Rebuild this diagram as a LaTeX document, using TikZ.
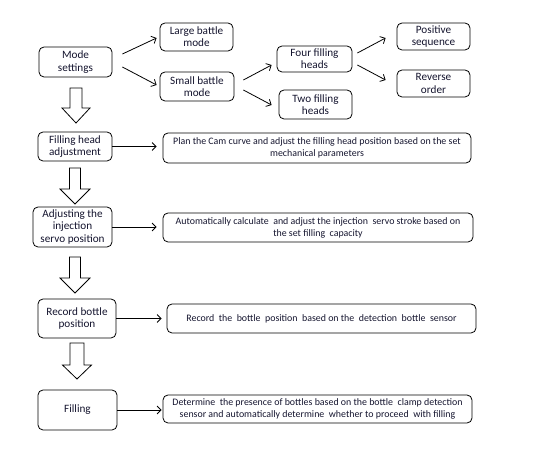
\documentclass[tikz,border=0pt]{standalone}
\usepackage{fontspec}
\setmainfont{Carlito}
\usetikzlibrary{arrows.meta}
\definecolor{txt}{HTML}{14142E}
\newcommand\hollowarrow[6]{%
  % #1 center x, #2 top y, #3 head start y, #4 tip y, #5 shaft half width, #6 head half width
  \draw[line width=0.8pt,fill=white] ({#1-#5},#2) -- ({#1+#5},#2) -- ({#1+#5},#3) -- ({#1+#6},#3)
    -- (#1,#4) -- ({#1-#6},#3) -- ({#1-#5},#3) -- cycle;}
\begin{document}
\begin{tikzpicture}[x=1pt,y=-1pt,
  box/.style={draw,line width=0.8pt,rounded corners=5pt,align=center,inner sep=1pt,
    text=txt,font=\fontsize{11.2}{12.3}\selectfont},
  wbox/.style={box,font=\fontsize{9.9}{12}\selectfont},
  conn/.style={line width=0.8pt,-{Straight Barb[length=4pt,width=8pt,line width=0.8pt]}}]
\useasboundingbox (0,0) rectangle (542,465);
% top row
\node[box,minimum width=73pt,minimum height=30pt] (mode) at (75.5,62) {Mode\\settings};
\node[box,minimum width=73pt,minimum height=28pt] (large) at (196.5,37) {Large battle\\mode};
\node[box,minimum width=74pt,minimum height=29pt] (small) at (197,86.5) {Small battle\\mode};
\node[box,minimum width=75pt,minimum height=26pt] (four) at (314.5,59) {Four filling\\heads};
\node[box,minimum width=73pt,minimum height=29pt] (two) at (315.5,104.5) {Two filling\\heads};
\node[box,minimum width=73pt,minimum height=27pt] (pos) at (433.5,36.5) {Positive\\sequence};
\node[box,minimum width=73pt,minimum height=27pt] (rev) at (433.5,83.5) {Reverse\\order};
\draw[conn] ([shift={(10pt,8pt)}]mode.east) -- ([shift={(-3pt,-1pt)}]large.west);
\draw[conn] ([shift={(10pt,-5pt)}]mode.east) -- ([shift={(-3pt,1.5pt)}]small.west);
\draw[conn] ([shift={(9pt,6.5pt)}]small.east) -- ([shift={(-5pt,-6pt)}]four.west);
\draw[conn] ([shift={(9pt,-3.5pt)}]small.east) -- ([shift={(-7pt,-0.5pt)}]two.west);
\draw[conn] ([shift={(5pt,6pt)}]four.east) -- ([shift={(-11pt,-1.5pt)}]pos.west);
\draw[conn] ([shift={(5pt,-6pt)}]four.east) -- ([shift={(-11pt,3.5pt)}]rev.west);
% steps
\node[box,minimum width=74pt,minimum height=29pt] (fha) at (75,146.5) {Filling head\\adjustment};
\node[wbox,minimum width=308pt,minimum height=30pt] (plan) at (317,148) {Plan the Cam curve and adjust the filling head position based on the set\\mechanical parameters};
\draw[conn] (fha.east) -- ([xshift=-6pt]plan.west |- fha.east);

\node[box,minimum width=79pt,minimum height=40pt] (adj) at (72.5,227) {Adjusting the\\injection\\servo position};
\node[wbox,minimum width=310pt,minimum height=29pt] (auto) at (318,227.5) {Automatically calculate\ \ and adjust the injection\ \ servo stroke based on\\the set filling\ \ capacity};
\draw[conn] (adj.east) -- ([xshift=-6pt]auto.west |- adj.east);

\node[box,minimum width=78pt,minimum height=39pt] (rec) at (77,318.5) {Record bottle\\position};
\node[wbox,minimum width=309pt,minimum height=29pt] (recd) at (321.5,318.5) {Record\ \ the\ \ bottle\ \ position\ \ based on the\ \ detection\ \ bottle\ \ sensor};
\draw[conn] (rec.east) -- ([xshift=-5pt]recd.west |- rec.east);

\node[box,minimum width=79pt,minimum height=40pt] (fill) at (77.5,410) {Filling};
\node[wbox,minimum width=309pt,minimum height=28pt] (det) at (317.5,409) {Determine\ \ the presence of bottles based on the bottle\ \ clamp detection\\sensor and automatically determine\ \ whether to proceed\ \ with filling};
\draw[conn] (fill.east) -- ([xshift=-1pt]det.west |- fill.east);
% hollow arrows
\hollowarrow{76}{88}{108}{123}{6}{14}
\hollowarrow{75}{168}{189}{204}{5.5}{15}
\hollowarrow{75}{257}{278}{293}{5.5}{15}
\hollowarrow{77}{343}{365}{379}{7}{14.5}
\end{tikzpicture}
\end{document}
